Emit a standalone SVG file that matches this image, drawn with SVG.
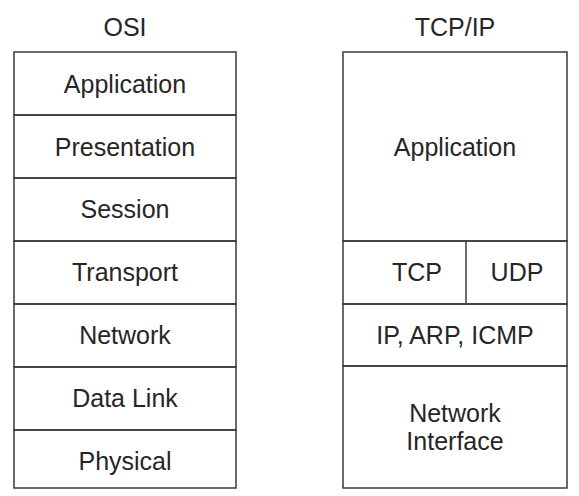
<svg xmlns="http://www.w3.org/2000/svg" width="579" height="496" viewBox="0 0 579 496">
<style>
.t{font-family:"Liberation Sans",Arial,sans-serif;font-size:25px;fill:#262626;text-anchor:middle;dominant-baseline:central}
.b{fill:none;stroke:#3a3a3a;stroke-width:1.5}
.d{stroke:#888;stroke-width:1.2}
</style>
<rect width="579" height="496" fill="#fff"/>
<g id="osi-title"><text class="t" x="125" y="27">OSI</text></g>
<g id="tcpip-title"><text class="t" x="455" y="27">TCP/IP</text></g>
<g id="osi-application"><rect class="b" x="14" y="52" width="222" height="63"/><text class="t" x="125" y="84">Application</text></g>
<g id="osi-presentation"><rect class="b" x="14" y="115" width="222" height="63"/><text class="t" x="125" y="147">Presentation</text></g>
<g id="osi-session"><rect class="b" x="14" y="178" width="222" height="63"/><text class="t" x="125" y="209">Session</text></g>
<g id="osi-transport"><rect class="b" x="14" y="241" width="222" height="63"/><text class="t" x="125" y="272">Transport</text></g>
<g id="osi-network"><rect class="b" x="14" y="304" width="222" height="63"/><text class="t" x="125" y="335">Network</text></g>
<g id="osi-datalink"><rect class="b" x="14" y="367" width="222" height="63"/><text class="t" x="125" y="398">Data Link</text></g>
<g id="osi-physical"><rect class="b" x="14" y="430" width="222" height="58"/><text class="t" x="125" y="461">Physical</text></g>
<g id="tcp-application"><rect class="b" x="343" y="52" width="224" height="189"/><text class="t" x="455" y="147">Application</text></g>
<g id="tcp-tcp"><rect class="b" x="343" y="241" width="123" height="63"/><text class="t" x="417" y="272">TCP</text></g>
<g id="tcp-udp"><rect class="b" x="466" y="241" width="101" height="63"/><text class="t" x="517" y="272">UDP</text></g>
<g id="tcp-ip"><rect class="b" x="343" y="304" width="224" height="62"/><text class="t" x="455" y="335">IP, ARP, ICMP</text></g>
<g id="tcp-netif"><rect class="b" x="343" y="366" width="224" height="122"/><text class="t" x="455" y="413">Network</text><text class="t" x="455" y="441">Interface</text></g>
<g id="connectors"><line class="d" x1="466" y1="242" x2="466" y2="303"/></g>
</svg>
